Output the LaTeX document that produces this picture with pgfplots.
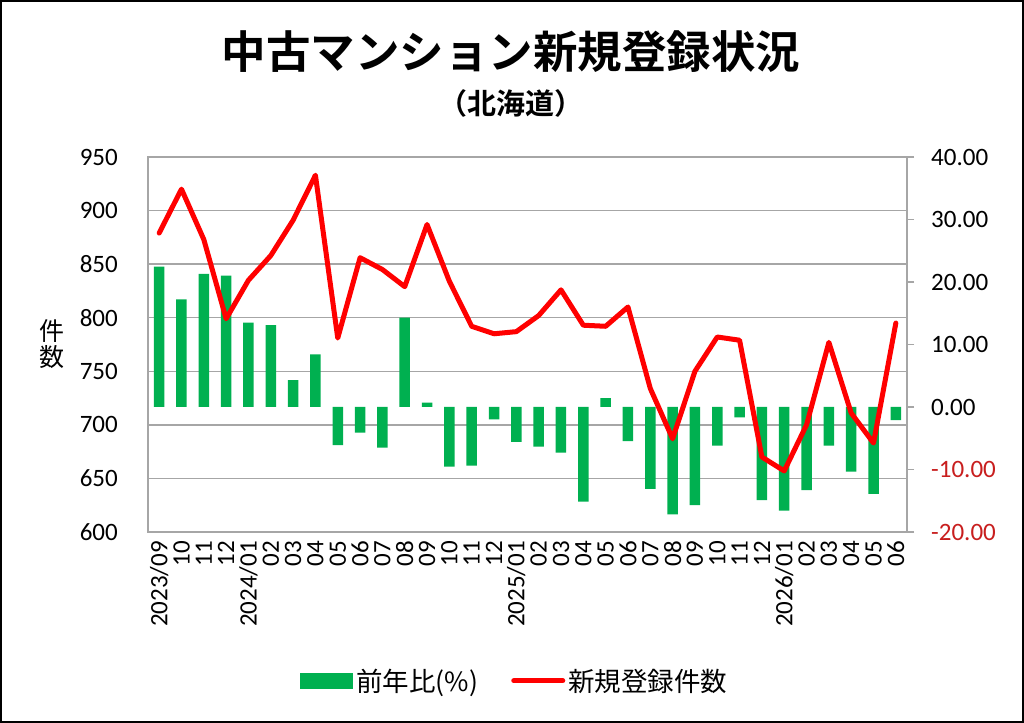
\documentclass[border=0pt]{standalone}
\usepackage{pgfplots}
\pgfplotsset{compat=1.18}
\usepackage{fontspec}
\setmainfont{Carlito}
\newfontfamily\cjk{Noto Sans CJK JP}[BoldFont={Noto Sans CJK JP Bold}]
\definecolor{bargreen}{HTML}{00B050}
\definecolor{linered}{HTML}{FF0000}
\definecolor{gridgray}{HTML}{A6A6A6}
\definecolor{negred}{HTML}{C81E1E}
\newcommand{\fs}[1]{\fontsize{#1bp}{#1bp}\selectfont}
\begin{document}
\begin{tikzpicture}
\useasboundingbox (0,0) rectangle (1024bp,723bp);
\fill[white] (0,0) rectangle (1024bp,723bp);
\draw[black, line width=2.4bp] (1.2bp,1.2bp) rectangle (1022.8bp,721.8bp);
\node[font=\cjk\bfseries\fs{44.5}, inner sep=0pt] at (511bp,671bp) {中古マンション新規登録状況};
\node[font=\cjk\bfseries\fs{29}, inner sep=0pt] at (511bp,620bp) {（北海道）};
\node[font=\cjk\fs{25}, inner sep=0pt, align=center] at (52bp,379bp) {件\\[1bp]数};

% axis 1: left axis, grid, x labels
\begin{axis}[
  at={(148bp,191bp)}, anchor=south west,
  width=759bp, height=375bp, scale only axis,
  xmin=-0.5, xmax=33.5, ymin=600, ymax=950,
  enlargelimits=false,
  ytick={600,650,...,950},
  xtick={0,...,33},
  xticklabels={2023/09,10,11,12,2024/01,02,03,04,05,06,07,08,09,10,11,12,2025/01,02,03,04,05,06,07,08,09,10,11,12,2026/01,02,03,04,05,06},
  ymajorgrids,
  grid style={gridgray, line width=1.5bp},
  axis line style={gridgray, line width=1.5bp},
  major tick length=0pt,
  tick style={draw=none},
  /pgf/number format/assume math mode=true,
  yticklabel style={font=\fs{25}, inner sep=0pt, anchor=east, xshift=-30bp},
  xticklabel style={font=\fs{25}, rotate=90, anchor=east, inner xsep=9bp, inner ysep=0pt},
]
\addplot[draw=none, forget plot] coordinates {(0,700)};
\end{axis}

% axis 2: right axis, bars
\begin{axis}[
  at={(148bp,191bp)}, anchor=south west,
  width=759bp, height=375bp, scale only axis,
  xmin=-0.5, xmax=33.5, ymin=-20, ymax=40,
  enlargelimits=false,
  axis y line*=right, axis x line=none,
  ytick={-20,-10,...,40},
  yticklabels={\textcolor{negred}{-20.00},\textcolor{negred}{-10.00},0.00,10.00,20.00,30.00,40.00},
  axis line style={gridgray, line width=1.5bp},
  tick style={gridgray, line width=1.5bp},
  tick align=outside, major tick length=7bp,
  yticklabel style={font=\fs{25}, inner sep=0pt, anchor=west, xshift=17bp},
]
\addplot[ybar, bar width=10.5bp, fill=bargreen, draw=none] coordinates {
(0,22.45) (1,17.2) (2,21.3) (3,21.0) (4,13.5) (5,13.1) (6,4.3) (7,8.4)
(8,-6.1) (9,-4.1) (10,-6.5) (11,14.3) (12,0.7) (13,-9.55) (14,-9.4) (15,-1.97)
(16,-5.6) (17,-6.35) (18,-7.3) (19,-15.15) (20,1.4) (21,-5.45) (22,-13.1) (23,-17.2)
(24,-15.7) (25,-6.2) (26,-1.65) (27,-14.9) (28,-16.6) (29,-13.3) (30,-6.2) (31,-10.35)
(32,-13.9) (33,-2.1)};
\end{axis}

% axis 3: line on left scale, legend
\begin{axis}[
  at={(148bp,191bp)}, anchor=south west,
  width=759bp, height=375bp, scale only axis,
  xmin=-0.5, xmax=33.5, ymin=600, ymax=950,
  enlargelimits=false,
  hide axis,
  legend columns=2,
  legend style={at={(0.484,-0.397)}, anchor=center, draw=none, fill=none,
    font=\cjk\fs{26.5}, inner sep=0pt,
    nodes={inner xsep=3bp, inner ysep=2bp},
    /tikz/every even column/.append style={column sep=30bp}},
]
\addlegendimage{area legend, fill=bargreen, draw=none,
  legend image code/.code={\fill[bargreen] (0bp,-8bp) rectangle (53bp,8bp);}}
\addlegendentry{前年比(\%)}
\addplot[linered, line width=5bp, line join=round, line cap=round,
  legend image code/.code={\draw[linered, line width=5bp, line cap=round] (2bp,0bp) -- (51bp,0bp);}] coordinates {
(0,879) (1,920) (2,873) (3,799) (4,835) (5,858) (6,891) (7,933)
(8,781) (9,856) (10,845) (11,829) (12,887) (13,834) (14,792) (15,785)
(16,787) (17,802) (18,826) (19,793) (20,792) (21,810) (22,734) (23,687)
(24,750) (25,782) (26,779) (27,670) (28,657) (29,700) (30,777) (31,711)
(32,683) (33,795)};
\addlegendentry{新規登録件数}
\end{axis}
\end{tikzpicture}
\end{document}
